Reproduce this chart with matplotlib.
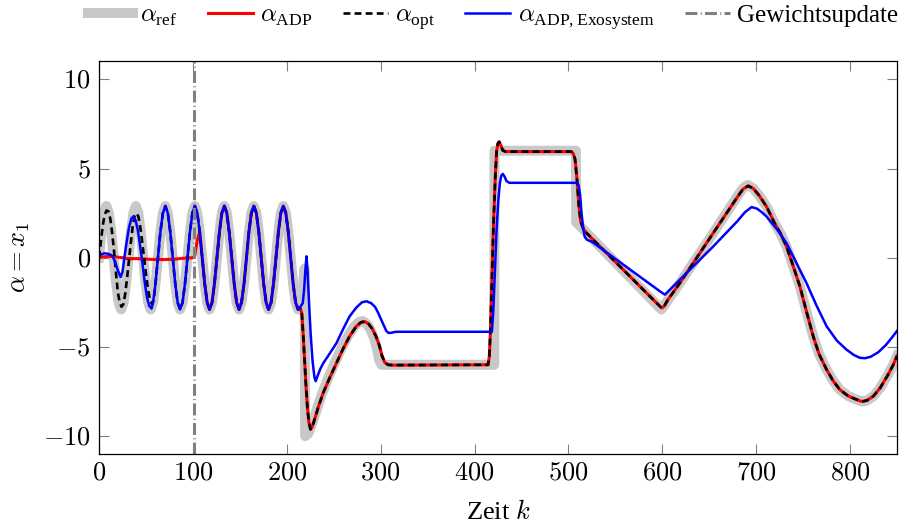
import numpy as np
import matplotlib.pyplot as plt

plt.rcParams['font.family'] = ['Liberation Serif', 'DejaVu Serif']
plt.rcParams['mathtext.fontset'] = 'custom'
plt.rcParams['mathtext.rm'] = 'Liberation Serif'
plt.rcParams['mathtext.it'] = 'cmmi10'
plt.rcParams['mathtext.fallback'] = 'cm'

# Referenzschwingung am Anfang (k, alpha)
osc_k = [0.0, 2.6, 5.2, 7.9, 10.5, 13.1, 15.7, 18.3, 20.9, 23.6, 26.2, 28.8,
         31.4, 34.0, 36.7, 39.3, 41.9, 44.5, 47.1, 49.7, 52.4, 55.0, 57.6, 60.2,
         62.8, 65.4, 68.1, 70.7, 73.3, 75.9, 78.5, 81.2, 83.8, 86.4, 89.0, 91.6,
         94.2, 96.9, 99.5, 102.1, 104.7, 107.3, 110.0, 112.6, 115.2, 117.8, 120.4, 123.0,
         125.7, 128.3, 130.9, 133.5, 136.1, 138.7, 141.4, 144.0, 146.6, 149.2, 151.8, 154.5,
         157.1, 159.7, 162.3, 164.9, 167.6, 170.2, 172.8, 175.4, 178.0, 180.6, 183.3, 185.9,
         188.5, 191.1, 193.7, 196.3, 199.0, 201.6, 204.2, 206.8, 209.4, 212.1, 214.7, 217.3]
osc_v = [0.0, 1.45, 2.51, 2.9, 2.51, 1.45, 0.0, -1.45, -2.51, -2.9, -2.51, -1.45,
         0.0, 1.45, 2.51, 2.9, 2.51, 1.45, 0.0, -1.45, -2.51, -2.9, -2.51, -1.45,
         0.0, 1.45, 2.51, 2.9, 2.51, 1.45, 0.0, -1.45, -2.51, -2.9, -2.51, -1.45,
         0.0, 1.45, 2.51, 2.9, 2.51, 1.45, 0.0, -1.45, -2.51, -2.9, -2.51, -1.45,
         0.0, 1.45, 2.51, 2.9, 2.51, 1.45, 0.0, -1.45, -2.51, -2.9, -2.51, -1.45,
         0.0, 1.45, 2.51, 2.9, 2.51, 1.45, 0.0, -1.45, -2.51, -2.9, -2.51, -1.45,
         0.0, 1.45, 2.51, 2.9, 2.51, 1.45, 0.0, -1.45, -2.51, -2.9, -2.51, -1.45]

# Referenz nach der Schwingung
ref_tail_k = [219.0, 219.6, 223.0, 227.0, 232.0, 237.0, 244.0, 251.0, 258.0, 265.0, 272.0,
              277.0, 281.0, 285.0, 289.0, 293.0, 296.0, 298.5, 301.0, 421.0, 421.3, 508.0,
              508.3, 523.0, 599.0, 618.7, 654.2, 680.0, 686.0, 691.0, 697.0, 703.0, 711.0,
              720.0, 726.0, 732.3, 739.0, 746.5, 753.0, 760.7, 767.0, 775.0, 782.0, 789.0,
              798.0, 806.9, 812.6, 818.0, 825.0, 832.0, 840.0, 846.0, 850.0]
ref_tail_v = [-0.6, -10.0, -9.85, -9.3, -8.5, -7.7, -6.75, -5.9, -5.1, -4.4, -3.85,
              -3.6, -3.55, -3.7, -4.0, -4.5, -5.1, -5.75, -6.0, -6.0, 6.0, 6.0,
              2.0, 1.2, -2.9, -1.42, 1.38, 3.45, 3.9, 4.08, 3.88, 3.5, 2.87,
              1.9, 1.35, 0.63, -0.4, -1.6, -2.9, -4.4, -5.4, -6.27, -6.9, -7.39,
              -7.75, -7.95, -8.06, -8.0, -7.75, -7.3, -6.6, -6.0, -5.5]

# ADP vor dem Gewichtsupdate
adp_head_k = [0, 5, 10, 15, 20, 25, 30, 40, 50, 60, 70, 80, 90, 100, 102, 104.3]
adp_head_v = [0.0, 0.05, 0.08, 0.06, 0.03, 0.0, -0.05, -0.05, -0.08, -0.1, -0.1, -0.08,
              -0.03, 0.0, 0.1, 0.9]

# ADP / optimal nach der Schwingung
adp_tail_k = [214.5, 216.0, 217.5, 219.0, 220.5, 222.0, 223.5, 225.3, 227.0, 230.0, 234.0,
              239.0, 246.0, 253.0, 260.0, 267.0, 274.0, 279.0, 283.0, 287.0, 291.0, 295.0,
              298.5, 301.5, 304.5, 308.0, 313.0, 414.5, 415.8, 417.0, 420.0, 422.0, 423.5,
              425.0, 426.3, 428.0, 430.0, 433.0, 503.0, 505.0, 507.0, 509.0, 511.0, 513.0,
              516.0, 520.0, 523.0, 596.0, 599.3, 602.0, 606.0, 618.7, 654.2, 680.0, 686.0,
              691.5, 697.0, 703.0, 711.0, 720.0, 726.0, 732.3, 739.0, 746.5, 753.0, 760.7,
              767.0, 775.0, 782.0, 789.0, 798.0, 806.9, 812.6, 818.0, 825.0, 832.0, 840.0,
              846.0, 850.0]
adp_tail_v = [-2.85, -3.1, -4.3, -5.8, -7.2, -8.4, -9.2, -9.62, -9.5, -9.0, -8.3,
              -7.55, -6.7, -5.9, -5.1, -4.4, -3.85, -3.62, -3.58, -3.7, -3.98, -4.4,
              -4.9, -5.5, -5.88, -6.0, -6.02, -6.0, -5.5, -4.0, 1.5, 4.4, 5.95,
              6.42, 6.5, 6.3, 6.02, 5.95, 5.95, 5.85, 5.55, 4.5, 3.0, 2.05,
              1.6, 1.35, 1.19, -2.65, -2.82, -2.72, -2.35, -1.42, 1.38, 3.4, 3.85,
              4.03, 3.88, 3.5, 2.87, 1.9, 1.35, 0.63, -0.4, -1.6, -2.9, -4.4,
              -5.4, -6.27, -6.9, -7.39, -7.75, -7.95, -8.06, -8.0, -7.75, -7.3, -6.6,
              -6.0, -5.5]

# optimal am Anfang
opt_head_k = [0, 2, 4, 6, 8, 10, 12, 14, 16, 18, 20, 22, 24, 26, 28, 30, 32, 34, 36, 38,
              40, 42, 44, 46, 48, 50, 52, 54, 56.5, 58.5]
opt_head_v = [0.0, 0.9, 1.8, 2.4, 2.65, 2.6, 2.2, 1.4, 0.4, -0.8, -1.9, -2.5, -2.75, -2.6,
              -2.0, -1.1, -0.1, 0.9, 1.8, 2.35, 2.5, 2.3, 1.7, 0.9, 0.0, -0.9, -1.7, -2.3,
              -2.6, -2.3]

# ADP mit Exosystem
exo_head_k = [0, 3, 6, 10, 14, 17, 20, 23, 25, 27, 29.5, 32, 34.5, 36.6, 39, 41.5, 44, 46,
              48.5, 51, 53.5, 56]
exo_head_v = [0.1, 0.2, 0.25, 0.22, 0.12, -0.2, -0.7, -1.08, -0.8, 0.0, 0.9, 1.7, 2.2, 2.31,
              2.1, 1.5, 0.6, -0.2, -1.3, -2.2, -2.7, -2.85]
exo_tail_k = [214.5, 217.0, 218.5, 219.8, 221.0, 222.2, 223.8, 225.5, 227.5, 229.5, 230.8,
              233.0, 236.0, 239.0, 246.0, 253.0, 260.0, 267.0, 274.0, 280.0, 285.0, 290.0,
              294.0, 297.0, 300.0, 303.0, 306.0, 308.5, 312.0, 316.0, 418.5, 420.0, 421.5,
              423.5, 425.3, 427.0, 428.5, 430.0, 432.0, 434.0, 437.0, 509.0, 511.0, 512.5,
              514.0, 516.0, 517.6, 520.0, 524.7, 598.0, 602.8, 606.0, 618.7, 654.2, 680.0,
              688.0, 695.1, 701.0, 706.0, 711.0, 722.0, 732.3, 743.0, 753.6, 764.0, 775.0,
              786.0, 796.2, 804.0, 810.4, 816.0, 822.0, 830.0, 838.0, 845.0, 850.0]
exo_tail_v = [-2.75, -2.55, -1.8, -0.7, 0.08, -0.8, -2.6, -4.3, -5.8, -6.7, -6.92,
              -6.6, -6.2, -5.9, -5.35, -4.78, -4.0, -3.28, -2.8, -2.5, -2.44, -2.55,
              -2.75, -3.05, -3.4, -3.75, -4.1, -4.22, -4.2, -4.15, -4.15, -3.0, -1.0,
              1.57, 3.2, 4.18, 4.6, 4.7, 4.55, 4.3, 4.2, 4.2, 4.05, 3.5,
              2.5, 1.55, 1.15, 1.0, 0.91, -1.9, -2.07, -1.9, -1.23, 0.63, 2.05,
              2.55, 2.84, 2.75, 2.55, 2.31, 1.6, 0.82, -0.3, -1.42, -2.65, -3.84,
              -4.65, -5.15, -5.45, -5.61, -5.63, -5.55, -5.3, -4.9, -4.45, -4.1]

k_update = 101
xticks = [0, 100, 200, 300, 400, 500, 600, 700, 800]
yticks = [-10, -5, 0, 5, 10]

# Reihen zusammensetzen
ok = np.array(osc_k)
ov = np.array(osc_v)
ref_k = np.concatenate([ok, ref_tail_k])
ref_v = np.concatenate([ov, ref_tail_v])
adp_k = np.concatenate([adp_head_k, ok[41:82], adp_tail_k])
adp_v = np.concatenate([adp_head_v, ov[41:82], adp_tail_v])
opt_k = np.concatenate([opt_head_k, ok[23:82], adp_tail_k])
opt_v = np.concatenate([opt_head_v, ov[23:82], adp_tail_v])
exo_k = np.concatenate([exo_head_k, ok[22:82], exo_tail_k])
exo_v = np.concatenate([exo_head_v, ov[22:82], exo_tail_v])

fig = plt.figure(figsize=(9.2, 5.22), dpi=100)
ax = fig.add_axes([0.1076, 0.1303, 0.8674, 0.7519])

ax.plot(ref_k, ref_v, color='#c8c8c8', lw=7.2, label=r'$\alpha_{\mathrm{ref}}$')
ax.plot(adp_k, adp_v, color='#ff0000', lw=2.2, label=r'$\alpha_{\mathrm{ADP}}$')
ax.plot(opt_k, opt_v, color='black', lw=1.9, dashes=(2.6, 1.6), label=r'$\alpha_{\mathrm{opt}}$')
ax.plot(exo_k, exo_v, color='#0000ff', lw=1.8, label=r'$\alpha_{\mathrm{ADP,Exosystem}}$')
ax.axvline(k_update, color='#808080', lw=2.2, dashes=(3.9, 1.1, 0.3, 1.1), label='Gewichtsupdate')

ax.set_xlim(0, 850)
ax.set_ylim(-11, 11)
ax.set_xticks(xticks)
ax.set_xticklabels([f'${t}$' for t in xticks])
ax.set_yticks(yticks)
ax.set_yticklabels([f'${t}$' for t in yticks])
for lab in ax.get_xticklabels() + ax.get_yticklabels():
    lab.set_math_fontfamily('cm')
ax.tick_params(direction='in', length=7.5, width=0.8, color='#808080', top=True, right=True,
               labelsize=19, pad=6)
for s in ax.spines.values():
    s.set_linewidth(0.9)
ax.set_xlabel('Zeit $k$', fontsize=19, labelpad=11)
ax.set_ylabel(r'$\alpha = x_1$', fontsize=19, labelpad=8, math_fontfamily='cm')

fig.legend(loc='center', bbox_to_anchor=(0.536, 0.9655), ncol=5, frameon=False, fontsize=18,
           handlelength=1.8, handletextpad=0.3, columnspacing=1.2, borderaxespad=0)

fig.savefig('out.png', dpi=100)
